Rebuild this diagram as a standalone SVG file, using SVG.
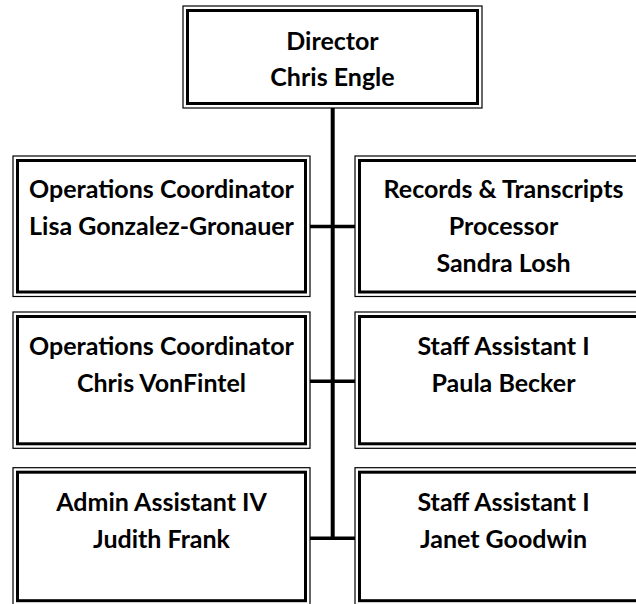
<svg xmlns="http://www.w3.org/2000/svg" width="636" height="604" viewBox="0 0 636 604">
<style>
.outer{fill:#fff;stroke:#000;stroke-width:1.2}
.inner{fill:none;stroke:#000;stroke-width:3}
.t{font-family:"Lato","Liberation Sans",sans-serif;font-weight:bold;font-size:25px;fill:#000;text-anchor:middle}
.c{stroke:#000;fill:none}
</style>
<rect x="0" y="0" width="636" height="604" fill="#fff"/>
<g id="connectors">
<line class="c" x1="332.7" y1="108" x2="332.7" y2="540" stroke-width="4"/>
<line class="c" x1="310" y1="226.5" x2="355" y2="226.5" stroke-width="3.5"/>
<line class="c" x1="310" y1="381.3" x2="355" y2="381.3" stroke-width="3.5"/>
<line class="c" x1="310" y1="538.3" x2="355" y2="538.3" stroke-width="3.5"/>
</g>
<g id="director">
<rect class="outer" x="183" y="6" width="299" height="102"/>
<rect class="inner" x="187.5" y="10.5" width="290" height="93"/>
<text class="t" x="332.5" y="50">Director</text>
<text class="t" x="332.5" y="86">Chris Engle</text>
</g>
<g id="ops-lisa">
<rect class="outer" x="13" y="156" width="297" height="140.5"/>
<rect class="inner" x="17.5" y="160.5" width="288" height="131.5"/>
<text class="t" x="161.5" y="198">Operations Coordinator</text>
<text class="t" x="161.5" y="235">Lisa Gonzalez-Gronauer</text>
</g>
<g id="records-sandra">
<rect class="outer" x="355" y="156" width="297" height="140.5"/>
<rect class="inner" x="359.5" y="160.5" width="288" height="131.5"/>
<text class="t" x="503.5" y="198">Records &amp; Transcripts</text>
<text class="t" x="503.5" y="235">Processor</text>
<text class="t" x="503.5" y="272">Sandra Losh</text>
</g>
<g id="ops-chris">
<rect class="outer" x="13" y="312" width="297" height="136.3"/>
<rect class="inner" x="17.5" y="316.5" width="288" height="127.3"/>
<text class="t" x="161.5" y="355">Operations Coordinator</text>
<text class="t" x="161.5" y="392">Chris VonFintel</text>
</g>
<g id="staff-paula">
<rect class="outer" x="355" y="312" width="297" height="136.3"/>
<rect class="inner" x="359.5" y="316.5" width="288" height="127.3"/>
<text class="t" x="503.5" y="355">Staff Assistant I</text>
<text class="t" x="503.5" y="392">Paula Becker</text>
</g>
<g id="admin-judith">
<rect class="outer" x="13" y="467.7" width="297" height="137.5"/>
<rect class="inner" x="17.5" y="472.2" width="288" height="128.5"/>
<text class="t" x="161.5" y="511">Admin Assistant IV</text>
<text class="t" x="161.5" y="548">Judith Frank</text>
</g>
<g id="staff-janet">
<rect class="outer" x="355" y="467.7" width="297" height="137.5"/>
<rect class="inner" x="359.5" y="472.2" width="288" height="128.5"/>
<text class="t" x="503.5" y="511">Staff Assistant I</text>
<text class="t" x="503.5" y="548">Janet Goodwin</text>
</g>
</svg>
